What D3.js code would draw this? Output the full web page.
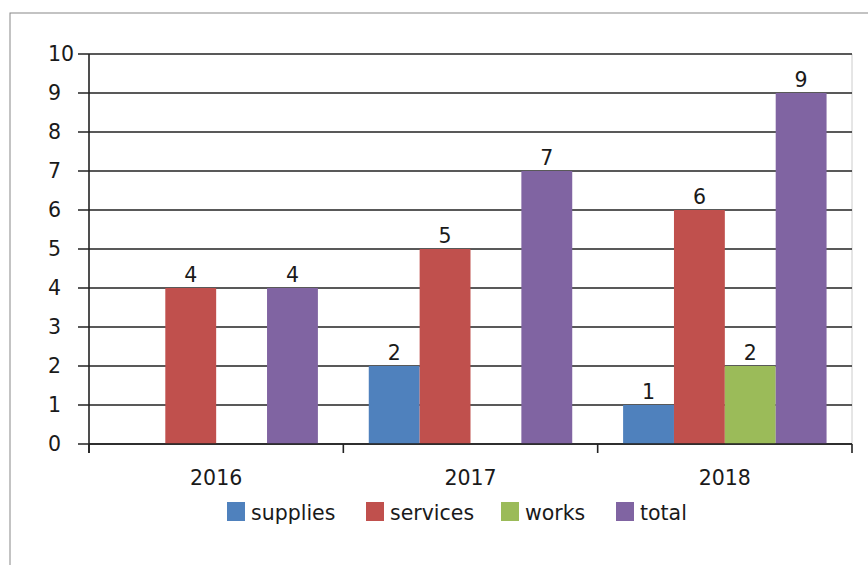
<!DOCTYPE html>
<html><head><meta charset="utf-8">
<script src="https://cdn.jsdelivr.net/npm/d3@7"></script>
<style>body{margin:0;background:#fff}svg{display:block}text{font-family:"DejaVu Sans",sans-serif;fill:#1a1a1a}</style>
</head><body><svg id="c" width="868" height="565"></svg>
<script>
const categories = ["2016","2017","2018"];
const seriesNames = ["supplies","services","works","total"];
const supplies = [0,2,1];
const services = [4,5,6];
const works = [0,0,2];
const total = [4,7,9];
const yTicks = [0,1,2,3,4,5,6,7,8,9,10];
const colors = ["#4F81BD","#C0504D","#9BBB59","#8064A2"];

const seriesVals = [supplies,services,works,total];
const svg = d3.select("#c");
const fs = 20.5;
// outer border
svg.append("rect").attr("x",10).attr("y",13).attr("width",900).attr("height",600)
  .attr("fill","none").attr("stroke","#888").attr("stroke-width",1);

const L=89,R=852,T=54,B=444;
const x0 = d3.scaleBand().domain(categories).range([L,R]).paddingInner(0).paddingOuter(0);
const x1 = d3.scaleBand().domain(seriesNames).range([0,x0.bandwidth()]).paddingInner(0).paddingOuter(0.5);
const y = d3.scaleLinear().domain([0,10]).range([B,T]);

// plot right border light
svg.append("line").attr("x1",R).attr("x2",R).attr("y1",T).attr("y2",B).attr("stroke","#ccc");

// gridlines
svg.append("g").selectAll("line").data(yTicks).join("line")
  .attr("x1",78).attr("x2",R).attr("y1",d=>y(d)).attr("y2",d=>y(d))
  .attr("stroke","#222").attr("stroke-width",1.6);
// y labels
svg.append("g").selectAll("text").data(yTicks).join("text")
  .attr("x",48).attr("y",d=>y(d)).attr("dy","0.36em").attr("font-size",fs).text(d=>d);

// bars
const data = [];
categories.forEach((c,i)=>seriesNames.forEach((s,j)=>data.push({c,s,j,v:seriesVals[j][i]})));
svg.append("g").selectAll("rect").data(data.filter(d=>d.v>0)).join("rect")
  .attr("x",d=>x0(d.c)+x1(d.s)).attr("width",x1.bandwidth())
  .attr("y",d=>y(d.v)).attr("height",d=>y(0)-y(d.v)).attr("fill",d=>colors[d.j]);
svg.append("g").selectAll("text").data(data.filter(d=>d.v>0)).join("text")
  .attr("x",d=>x0(d.c)+x1(d.s)+x1.bandwidth()/2).attr("y",d=>y(d.v)-6)
  .attr("text-anchor","middle").attr("font-size",fs).text(d=>d.v);

// axes lines
svg.append("line").attr("x1",L).attr("x2",L).attr("y1",T).attr("y2",B+9).attr("stroke","#222").attr("stroke-width",1.6);
svg.append("line").attr("x1",L).attr("x2",R).attr("y1",B).attr("y2",B).attr("stroke","#222").attr("stroke-width",1.6);
const bounds = categories.map(c=>x0(c)).concat([x0.range()[1]]);
svg.append("g").selectAll("line").data(bounds).join("line")
  .attr("x1",d=>d).attr("x2",d=>d).attr("y1",B).attr("y2",B+9).attr("stroke","#222").attr("stroke-width",1.6);
svg.append("g").selectAll("text").data(categories).join("text")
  .attr("x",d=>x0(d)+x0.bandwidth()/2).attr("y",485).attr("text-anchor","middle").attr("font-size",fs).text(d=>d);

// legend
const legX = [227,366,501,616];
const lg = svg.append("g").selectAll("g").data(seriesNames).join("g")
  .attr("transform",(d,i)=>`translate(${legX[i]},502)`);
lg.append("rect").attr("width",18).attr("height",19).attr("fill",(d,i)=>colors[i]);
lg.append("text").attr("x",24).attr("y",18).attr("font-size",fs).text(d=>d);
</script></body></html>
